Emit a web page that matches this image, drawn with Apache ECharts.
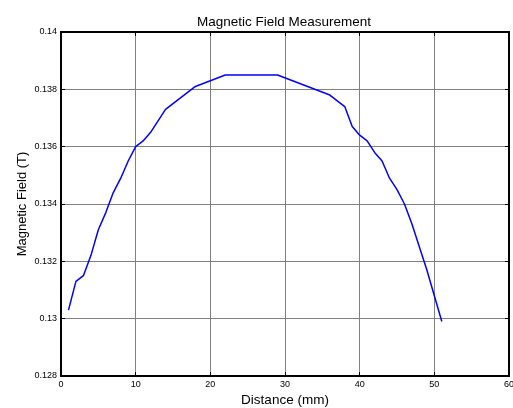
<!DOCTYPE html>
<html>
<head>
<meta charset="utf-8">
<script src="https://cdn.jsdelivr.net/npm/echarts@6/dist/echarts.min.js"></script>
<style>html,body{margin:0;padding:0;background:#fff;overflow:hidden}#c{width:513px;height:408px}</style>
</head>
<body>
<div id="c"></div>
<script>
const distance = [1,2,3,4,5,6,7,8,9,10,11,12,14,18,22,29,36,38,39,40,41,42,43,44,45,46,47,48,49,50,51];
const field = [0.1303,0.1313,0.1315,0.1322,0.1331,0.1337,0.1344,0.1349,0.1355,0.1360,0.1362,0.1365,0.1373,0.1381,0.1385,0.1385,0.1378,0.1374,0.1367,0.1364,0.1362,0.1358,0.1355,0.1349,0.1345,0.1340,0.1333,0.1325,0.1317,0.1308,0.1299];
const xTicks = [0,10,20,30,40,50,60];
const yTicks = [0.128,0.130,0.132,0.134,0.136,0.138,0.140];

const font = 'Liberation Sans, Arial, sans-serif';
const chart = echarts.init(document.getElementById('c'), null, {renderer:'canvas'});
const axisLine = {show:true, onZero:false, lineStyle:{color:'#000', width:2}};
const tick = {show:true, inside:true, length:4, lineStyle:{color:'#000'}};
chart.setOption({
  animation:false,
  backgroundColor:'#fff',
  title:{text:'Magnetic Field Measurement', left:197, top:15, padding:0,
    textStyle:{fontFamily:font, fontSize:13.5, fontWeight:'normal', color:'#000'}},
  grid:{left:61, right:4, top:32, bottom:32, show:true, borderColor:'#000', borderWidth:1.5,
    containLabel:false, outerBoundsMode:'none'},
  xAxis:[{
    type:'value', min:xTicks[0], max:xTicks[xTicks.length-1], interval:10,
    name:'Distance (mm)', nameLocation:'middle', nameGap:17, nameMoveOverlap:false,
    nameTextStyle:{fontFamily:font, fontSize:13.5, color:'#000'},
    axisLine:axisLine, axisTick:tick,
    axisLabel:{fontFamily:font, fontSize:9, color:'#000', margin:4},
    splitLine:{show:true, lineStyle:{color:'#808080', width:1}}
  },{
    type:'value', position:'top', min:xTicks[0], max:xTicks[xTicks.length-1], interval:10,
    axisLine:axisLine, axisTick:tick, axisLabel:{show:false}, splitLine:{show:false}
  }],
  yAxis:[{
    type:'value', min:yTicks[0], max:yTicks[yTicks.length-1], interval:0.002,
    name:'Magnetic Field (T)', nameLocation:'middle', nameGap:32, nameMoveOverlap:false,
    nameTextStyle:{fontFamily:font, fontSize:13, color:'#000'},
    axisLine:axisLine, axisTick:tick,
    axisLabel:{fontFamily:font, fontSize:9, color:'#000', margin:4,
      formatter:v=>String(parseFloat(v.toFixed(3)))},
    splitLine:{show:true, lineStyle:{color:'#808080', width:1}}
  },{
    type:'value', position:'right', min:yTicks[0], max:yTicks[yTicks.length-1], interval:0.002,
    axisLine:axisLine, axisTick:tick, axisLabel:{show:false}, splitLine:{show:false}
  }],
  series:[{
    type:'line', data:distance.map((d,i)=>[d, field[i]]),
    showSymbol:false, symbol:'none',
    lineStyle:{color:'#0000ff', width:1.5}
  }]
});
</script>
</body>
</html>
